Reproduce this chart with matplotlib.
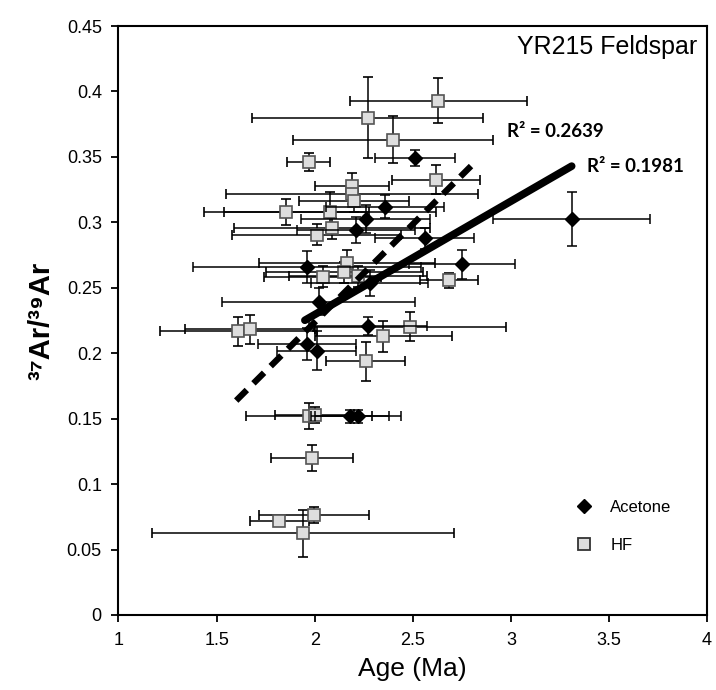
import matplotlib
matplotlib.use("Agg")
import matplotlib.pyplot as plt
from matplotlib.lines import Line2D
import numpy as np

plt.rcParams["font.family"] = ["Liberation Sans", "DejaVu Sans"]

# Acetone leach (black diamonds)
ace_age = [2.51, 3.31, 2.36, 2.26, 2.21, 2.56, 2.75, 1.96, 2.02, 2.27, 1.96, 2.01, 2.18, 2.22, 2.28]
ace_ratio = [0.349, 0.3025, 0.312, 0.3025, 0.294, 0.288, 0.268, 0.266, 0.2395, 0.221, 0.207, 0.202, 0.152, 0.152, 0.2535]
ace_age_err = [0.205, 0.40, 0.30, 0.33, 0.30, 0.25, 0.27, 0.58, 0.49, 0.30, 0.25, 0.20, 0.20, 0.22, 0.30]
ace_ratio_err = [0.006, 0.0205, 0.009, 0.011, 0.010, 0.008, 0.011, 0.012, 0.010, 0.007, 0.012, 0.015, 0.005, 0.005, 0.010]

# HF leach (grey squares)
hf_age = [2.63, 2.27, 2.40, 1.97, 2.62, 2.19, 2.19, 2.20, 1.855, 2.08, 2.01, 2.165, 2.22, 2.04,
          2.685, 2.15, 2.485, 2.35, 2.26, 1.61, 1.67, 1.97, 2.00, 1.985, 1.82, 1.995, 1.94, 2.09]
hf_ratio = [0.393, 0.380, 0.363, 0.346, 0.3325, 0.328, 0.322, 0.316, 0.308, 0.308, 0.2905, 0.269,
            0.2587, 0.2586, 0.2556, 0.262, 0.2204, 0.2128, 0.1937, 0.2166, 0.2184, 0.152, 0.153,
            0.1198, 0.0719, 0.0765, 0.0625, 0.2956]
hf_age_err = [0.45, 0.59, 0.51, 0.11, 0.225, 0.19, 0.64, 0.28, 0.42, 0.54, 0.43, 0.45, 0.35, 0.30,
              0.15, 0.40, 0.49, 0.35, 0.20, 0.40, 0.33, 0.32, 0.20, 0.21, 0.15, 0.28, 0.77, 0.50]
hf_ratio_err = [0.017, 0.031, 0.018, 0.007, 0.011, 0.010, 0.008, 0.008, 0.010, 0.015, 0.008, 0.010,
                0.008, 0.008, 0.006, 0.008, 0.011, 0.012, 0.015, 0.011, 0.011, 0.010, 0.006,
                0.010, 0.004, 0.006, 0.018, 0.008]

# linear trendlines (slope, intercept, x range) and their R^2 labels
ace_fit = [0.0866, 0.0563]
ace_fit_range = [1.95, 3.31]
hf_fit = [0.1497, -0.0757]
hf_fit_range = [1.60, 2.83]
ace_r2 = "R² = 0.1981"
hf_r2 = "R² = 0.2639"

fig = plt.figure(figsize=(7.16, 6.90), dpi=100)
ax = fig.add_axes([0.1655, 0.1087, 0.822, 0.8536])

ax.errorbar(hf_age, hf_ratio, xerr=hf_age_err, yerr=hf_ratio_err, fmt="s", ms=8,
            mfc="#dedede", mec="#555555", mew=1.2, ecolor="black", elinewidth=1.1,
            capsize=3.5, capthick=1.1, zorder=2)
ax.errorbar(ace_age, ace_ratio, xerr=ace_age_err, yerr=ace_ratio_err, fmt="D", ms=7.5,
            mfc="black", mec="black", ecolor="black", elinewidth=1.1,
            capsize=3.5, capthick=1.1, zorder=3)

# trendlines
xa = np.array(ace_fit_range)
ax.plot(xa, ace_fit[0] * xa + ace_fit[1], color="black", lw=5.5, solid_capstyle="round", zorder=4)
xh = np.array(hf_fit_range)
ax.plot(xh, hf_fit[0] * xh + hf_fit[1], color="black", lw=4.5, ls=(0, (2.4, 1.5)), zorder=4)

ax.text(3.39, 0.3427, ace_r2, fontsize=13.5, fontweight="bold", family=["Lato", "DejaVu Sans"],
        va="center", ha="left")
ax.text(2.98, 0.3695, hf_r2, fontsize=13.5, fontweight="bold", family=["Lato", "DejaVu Sans"],
        va="center", ha="left")
ax.text(3.95, 0.434, "YR215 Feldspar", fontsize=18, ha="right", va="center")

ax.set_xlim(1, 4)
ax.set_ylim(0, 0.45)
ax.set_xticks([1, 1.5, 2, 2.5, 3, 3.5, 4])
ax.set_xticklabels(["1", "1.5", "2", "2.5", "3", "3.5", "4"])
ax.set_yticks(np.arange(0, 0.451, 0.05))
ax.set_yticklabels(["0", "0.05", "0.1", "0.15", "0.2", "0.25", "0.3", "0.35", "0.4", "0.45"])
ax.tick_params(direction="out", length=5, width=1.3, labelsize=13, pad=7)
for s in ax.spines.values():
    s.set_linewidth(1.5)

ax.set_xlabel("Age (Ma)", fontsize=19, labelpad=6)
ax.set_ylabel("³⁷Ar/³⁹Ar", fontsize=21, fontweight="bold", labelpad=8)

handles = [
    Line2D([], [], marker="D", ls="none", color="black", ms=7),
    Line2D([], [], marker="s", ls="none", mfc="#dedede", mec="#333333", mew=1.3, ms=8),
]
ax.legend(handles, ["Acetone", "HF"], loc="lower right", bbox_to_anchor=(0.965, 0.08),
          frameon=False, fontsize=12, handletextpad=0.6, labelspacing=1.4)

fig.savefig("out.png", dpi=100)
